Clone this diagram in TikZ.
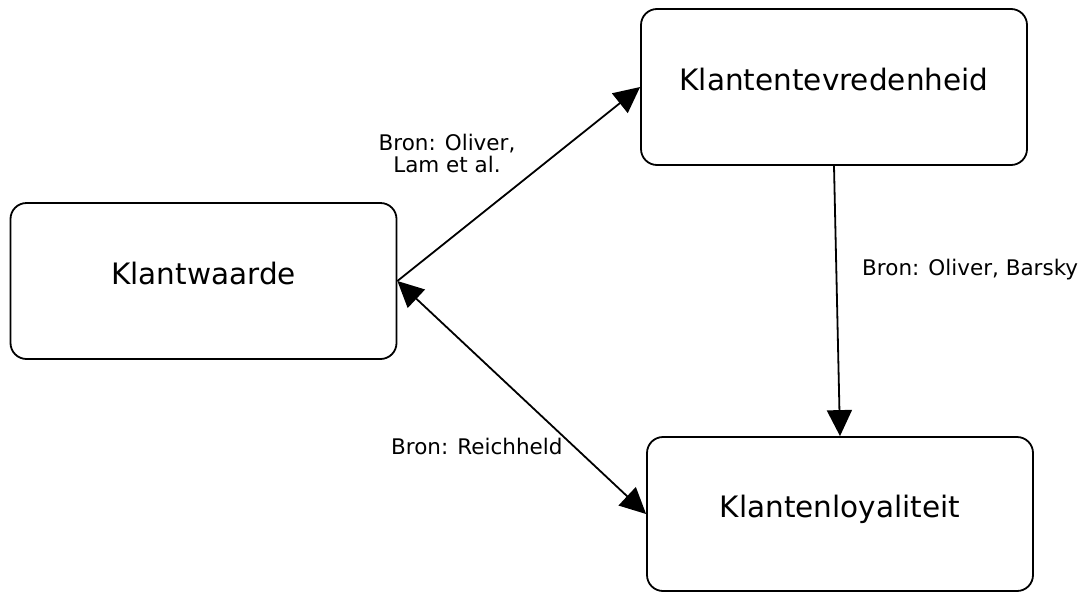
\documentclass[tikz,border=0pt]{standalone}
\usepackage{fontspec}
\setmainfont{DejaVu Sans}
\usetikzlibrary{arrows.meta}
\begin{document}
\begin{tikzpicture}[x=1pt,y=-1pt,
  box/.style={draw, line width=1.8pt, rounded corners=16pt, rectangle,
    minimum width=386pt, minimum height=156pt, inner sep=0pt,
    font=\fontsize{29.5}{31}\selectfont, text height=20pt, text depth=13pt},
  link/.style={line width=1.8pt, -{Triangle[length=26pt,width=25pt]}},
  twoway/.style={line width=1.8pt, {Triangle[length=26pt,width=25pt]}-{Triangle[length=26pt,width=25pt]}},
  note/.style={font=\fontsize{21.5}{22}\selectfont, inner sep=0pt}]
\useasboundingbox (0,0) rectangle (1086,592);

% the three concepts
\node[box] (waarde) at (203.5,281) {Klantwaarde};
\node[box] (tevreden) at (834,87) {Klantentevredenheid};
\node[box, minimum height=154pt] (loyal) at (840,514) {Klantenloyaliteit};

% relations between them
\draw[link] (waarde.east) -- (tevreden.west);
\draw[twoway] (waarde.east) -- (loyal.west);
\draw[link] (tevreden.south) -- (loyal.north);

% sources
\node[note, align=center, anchor=base] (bron1) at (447,172) {Bron: Oliver,\\Lam et al.};
\node[note, anchor=base west] (bron2) at (862,275) {Bron: Oliver, Barsky};
\node[note, anchor=base west] (bron3) at (391,454) {Bron: Reichheld};
\end{tikzpicture}
\end{document}
